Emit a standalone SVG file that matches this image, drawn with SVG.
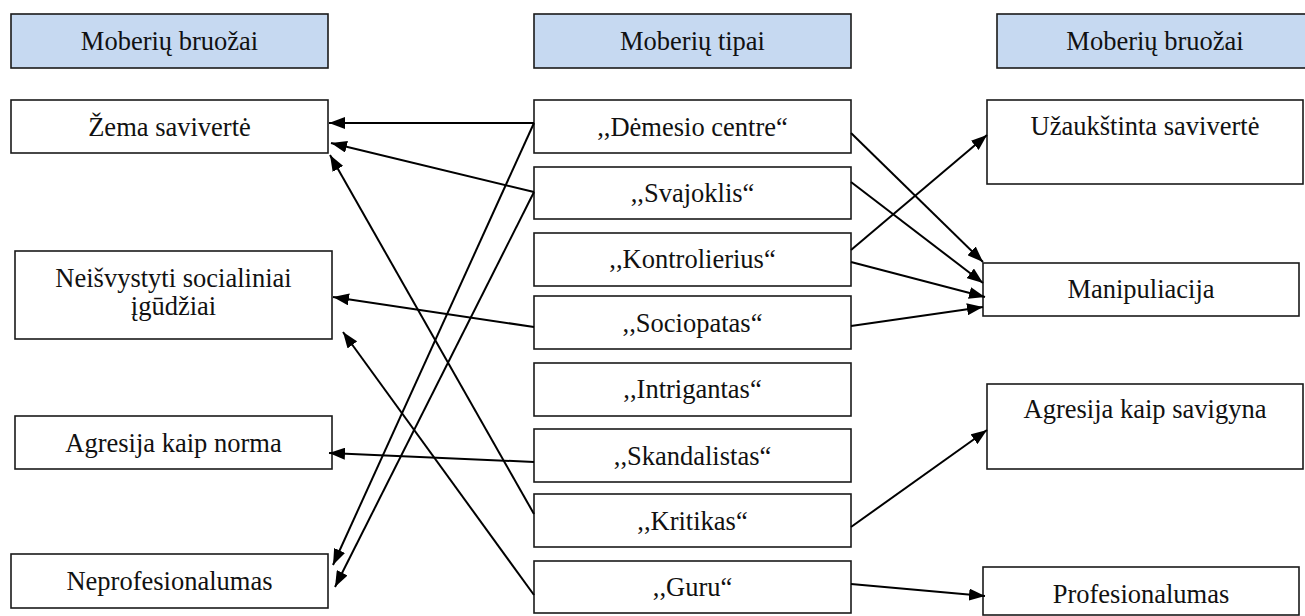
<svg xmlns="http://www.w3.org/2000/svg" width="1305" height="616" viewBox="0 0 1305 616">
<style>
.box{fill:#fff;stroke:#1a1a1a;stroke-width:1.6}
.hdr{fill:#c6d9f1;stroke:#1a1a1a;stroke-width:1.6}
text.t{font-family:"Liberation Serif","Times New Roman","DejaVu Serif",serif;font-size:26.5px;fill:#111;text-anchor:middle}
.c{stroke:#000;stroke-width:2;fill:none;marker-end:url(#ah)}
</style>
<defs>
<marker id="ah" markerUnits="userSpaceOnUse" viewBox="0 0 16 12" refX="16" refY="6" markerWidth="16" markerHeight="12" orient="auto">
<path d="M0,0 L16,6 L0,12 z" fill="#000"/>
</marker>
</defs>
<rect width="1305" height="616" fill="#fff"/>
<g id="h-left"><rect class="hdr" x="11" y="14" width="317" height="54"/><text class="t" x="169.5" y="50">Moberių bruožai</text></g>
<g id="h-mid"><rect class="hdr" x="534" y="14" width="317" height="54"/><text class="t" x="692.5" y="50">Moberių tipai</text></g>
<g id="h-right"><rect class="hdr" x="997" y="14" width="316" height="54"/><text class="t" x="1155" y="50">Moberių bruožai</text></g>

<g id="l-zema"><rect class="box" x="11" y="100" width="317" height="53"/><text class="t" x="169.5" y="136">Žema savivertė</text></g>
<g id="l-neisvystyti"><rect class="box" x="15" y="251" width="317" height="88"/><text class="t" x="173.5" y="287">Neišvystyti socialiniai</text><text class="t" x="173.5" y="315">įgūdžiai</text></g>
<g id="l-agresija"><rect class="box" x="15" y="416" width="317" height="53"/><text class="t" x="173.5" y="452">Agresija kaip norma</text></g>
<g id="l-neprof"><rect class="box" x="11" y="554" width="317" height="54"/><text class="t" x="169.5" y="590">Neprofesionalumas</text></g>

<g id="m-demesio"><rect class="box" x="534" y="100" width="317" height="53"/><text class="t" x="692.5" y="136">,,Dėmesio centre“</text></g>
<g id="m-svajoklis"><rect class="box" x="534" y="167" width="317" height="52"/><text class="t" x="692.5" y="202">,,Svajoklis“</text></g>
<g id="m-kontrolierius"><rect class="box" x="534" y="233" width="317" height="53"/><text class="t" x="692.5" y="268">,,Kontrolierius“</text></g>
<g id="m-sociopatas"><rect class="box" x="534" y="296" width="317" height="53"/><text class="t" x="692.5" y="332">,,Sociopatas“</text></g>
<g id="m-intrigantas"><rect class="box" x="534" y="363" width="317" height="53"/><text class="t" x="692.5" y="398">,,Intrigantas“</text></g>
<g id="m-skandalistas"><rect class="box" x="534" y="429" width="317" height="53"/><text class="t" x="692.5" y="465">,,Skandalistas“</text></g>
<g id="m-kritikas"><rect class="box" x="534" y="494" width="317" height="53"/><text class="t" x="692.5" y="530">,,Kritikas“</text></g>
<g id="m-guru"><rect class="box" x="534" y="561" width="317" height="52"/><text class="t" x="692.5" y="596">,,Guru“</text></g>

<g id="r-uzaukstinta"><rect class="box" x="987" y="100" width="316" height="84"/><text class="t" x="1145" y="135">Užaukštinta savivertė</text></g>
<g id="r-manipuliacija"><rect class="box" x="983" y="263" width="316" height="53"/><text class="t" x="1141" y="298">Manipuliacija</text></g>
<g id="r-agresija"><rect class="box" x="987" y="384" width="316" height="85"/><text class="t" x="1145" y="418">Agresija kaip savigyna</text></g>
<g id="r-prof"><rect class="box" x="983" y="567" width="316" height="48"/><text class="t" x="1141" y="603">Profesionalumas</text></g>

<g id="connectors">
<line class="c" x1="534" y1="123" x2="329" y2="123"/>
<line class="c" x1="534" y1="192" x2="331" y2="143"/>
<line class="c" x1="534" y1="514" x2="330" y2="155"/>
<line class="c" x1="534" y1="123" x2="333" y2="565"/>
<line class="c" x1="534" y1="192" x2="335" y2="587"/>
<line class="c" x1="534" y1="327" x2="333" y2="297"/>
<line class="c" x1="534" y1="595" x2="343" y2="332"/>
<line class="c" x1="534" y1="462" x2="329" y2="453"/>
<line class="c" x1="851" y1="133" x2="983" y2="262"/>
<line class="c" x1="851" y1="182" x2="983" y2="283"/>
<line class="c" x1="851" y1="250" x2="987" y2="135"/>
<line class="c" x1="851" y1="262" x2="985" y2="297"/>
<line class="c" x1="851" y1="326" x2="983" y2="307"/>
<line class="c" x1="851" y1="527" x2="987" y2="430"/>
<line class="c" x1="851" y1="584" x2="985" y2="596"/>
</g>
</svg>
